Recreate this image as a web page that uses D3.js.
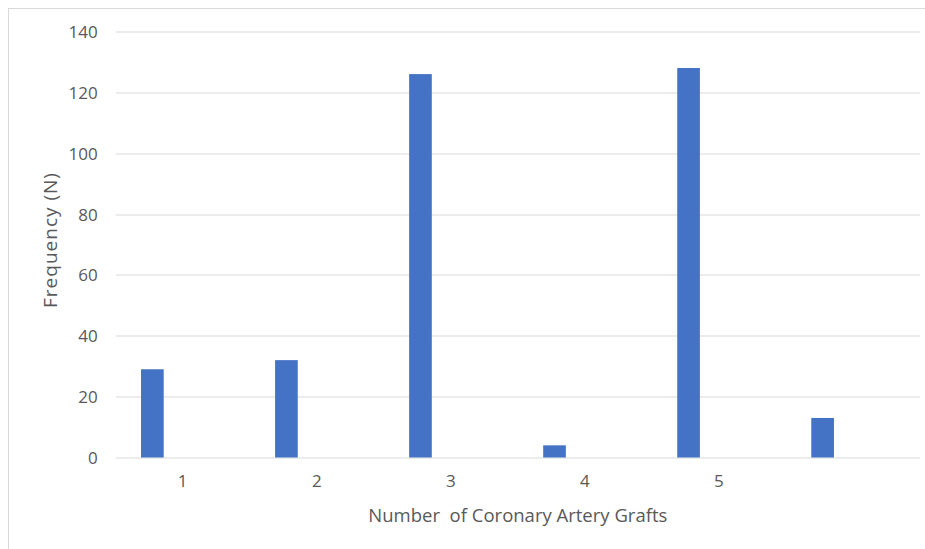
<!DOCTYPE html>
<html>
<head>
<meta charset="utf-8">
<script src="https://cdn.jsdelivr.net/npm/d3@7/dist/d3.min.js"></script>
<style>
  html, body { margin: 0; padding: 0; background: #fff; }
  svg { display: block; }
  text { font-family: "Open Sans", sans-serif; fill: #595959; }
</style>
</head>
<body>
<svg id="chart" width="925" height="549"></svg>
<script>
// ---- data ----
const categories = ["1", "2", "3", "4", "5", "6"];
const categoryLabels = ["1", "2", "3", "4", "5", ""];
const frequency = [29, 32, 126, 4, 128, 13];
const yTicks = [0, 20, 40, 60, 80, 100, 120, 140];
const xTitle = "Number  of Coronary Artery Grafts";
const yTitle = "Frequency (N)";

// ---- layout ----
const W = 925, H = 549;
const margin = { left: 115.7, right: 5, top: 31.5, bottom: 91.5 };
const plotW = W - margin.left - margin.right;
const plotH = H - margin.top - margin.bottom;

const svg = d3.select("#chart");

// chart frame
svg.append("rect")
  .attr("x", 8.5).attr("y", 8.5)
  .attr("width", W + 10).attr("height", H + 10)
  .attr("fill", "none").attr("stroke", "#d9d9d9").attr("stroke-width", 1);

const g = svg.append("g").attr("transform", `translate(${margin.left},${margin.top})`);

const x = d3.scaleBand().domain(categories).range([0, plotW]).paddingInner(0).paddingOuter(0);
const y = d3.scaleLinear().domain([0, 140]).range([plotH, 0]);

// gridlines
g.append("g").selectAll("line")
  .data(yTicks)
  .join("line")
  .attr("x1", 0).attr("x2", plotW)
  .attr("y1", d => Math.round(y(d)) + 0.5).attr("y2", d => Math.round(y(d)) + 0.5)
  .attr("stroke", "#d9d9d9").attr("stroke-width", 1);

// y axis labels
const yAxis = d3.axisLeft(y).tickValues(yTicks).tickSize(0).tickPadding(18);
const yg = g.append("g").call(yAxis);
yg.select(".domain").remove();
yg.selectAll("text").style("font-size", "17px").attr("fill", "#595959").attr("dy", "0.35em");

// x axis labels
const xAxis = d3.axisBottom(x).tickSize(0).tickPadding(17).tickFormat((d, i) => categoryLabels[i]);
const xg = g.append("g").attr("transform", `translate(0,${plotH})`).call(xAxis);
xg.select(".domain").remove();
xg.selectAll("text").style("font-size", "17px").attr("fill", "#595959");

// bars (first slot of a clustered layout)
const barOffset = 0.189, barWidth = 0.169;
g.append("g").selectAll("rect")
  .data(frequency)
  .join("rect")
  .attr("x", (d, i) => x(categories[i]) + x.bandwidth() * barOffset)
  .attr("width", x.bandwidth() * barWidth)
  .attr("y", d => y(d))
  .attr("height", d => y(0) - y(d))
  .attr("fill", "#4472c4");

// titles
svg.append("text")
  .attr("x", margin.left + plotW / 2)
  .attr("y", 522)
  .attr("text-anchor", "middle")
  .style("font-size", "18.5px")
  .style("white-space", "pre")
  .attr("xml:space", "preserve")
  .text(xTitle);

svg.append("text")
  .attr("transform", `translate(57,240) rotate(-90)`)
  .attr("text-anchor", "middle")
  .style("font-size", "19px")
  .style("letter-spacing", "1px")
  .text(yTitle);
</script>
</body>
</html>
